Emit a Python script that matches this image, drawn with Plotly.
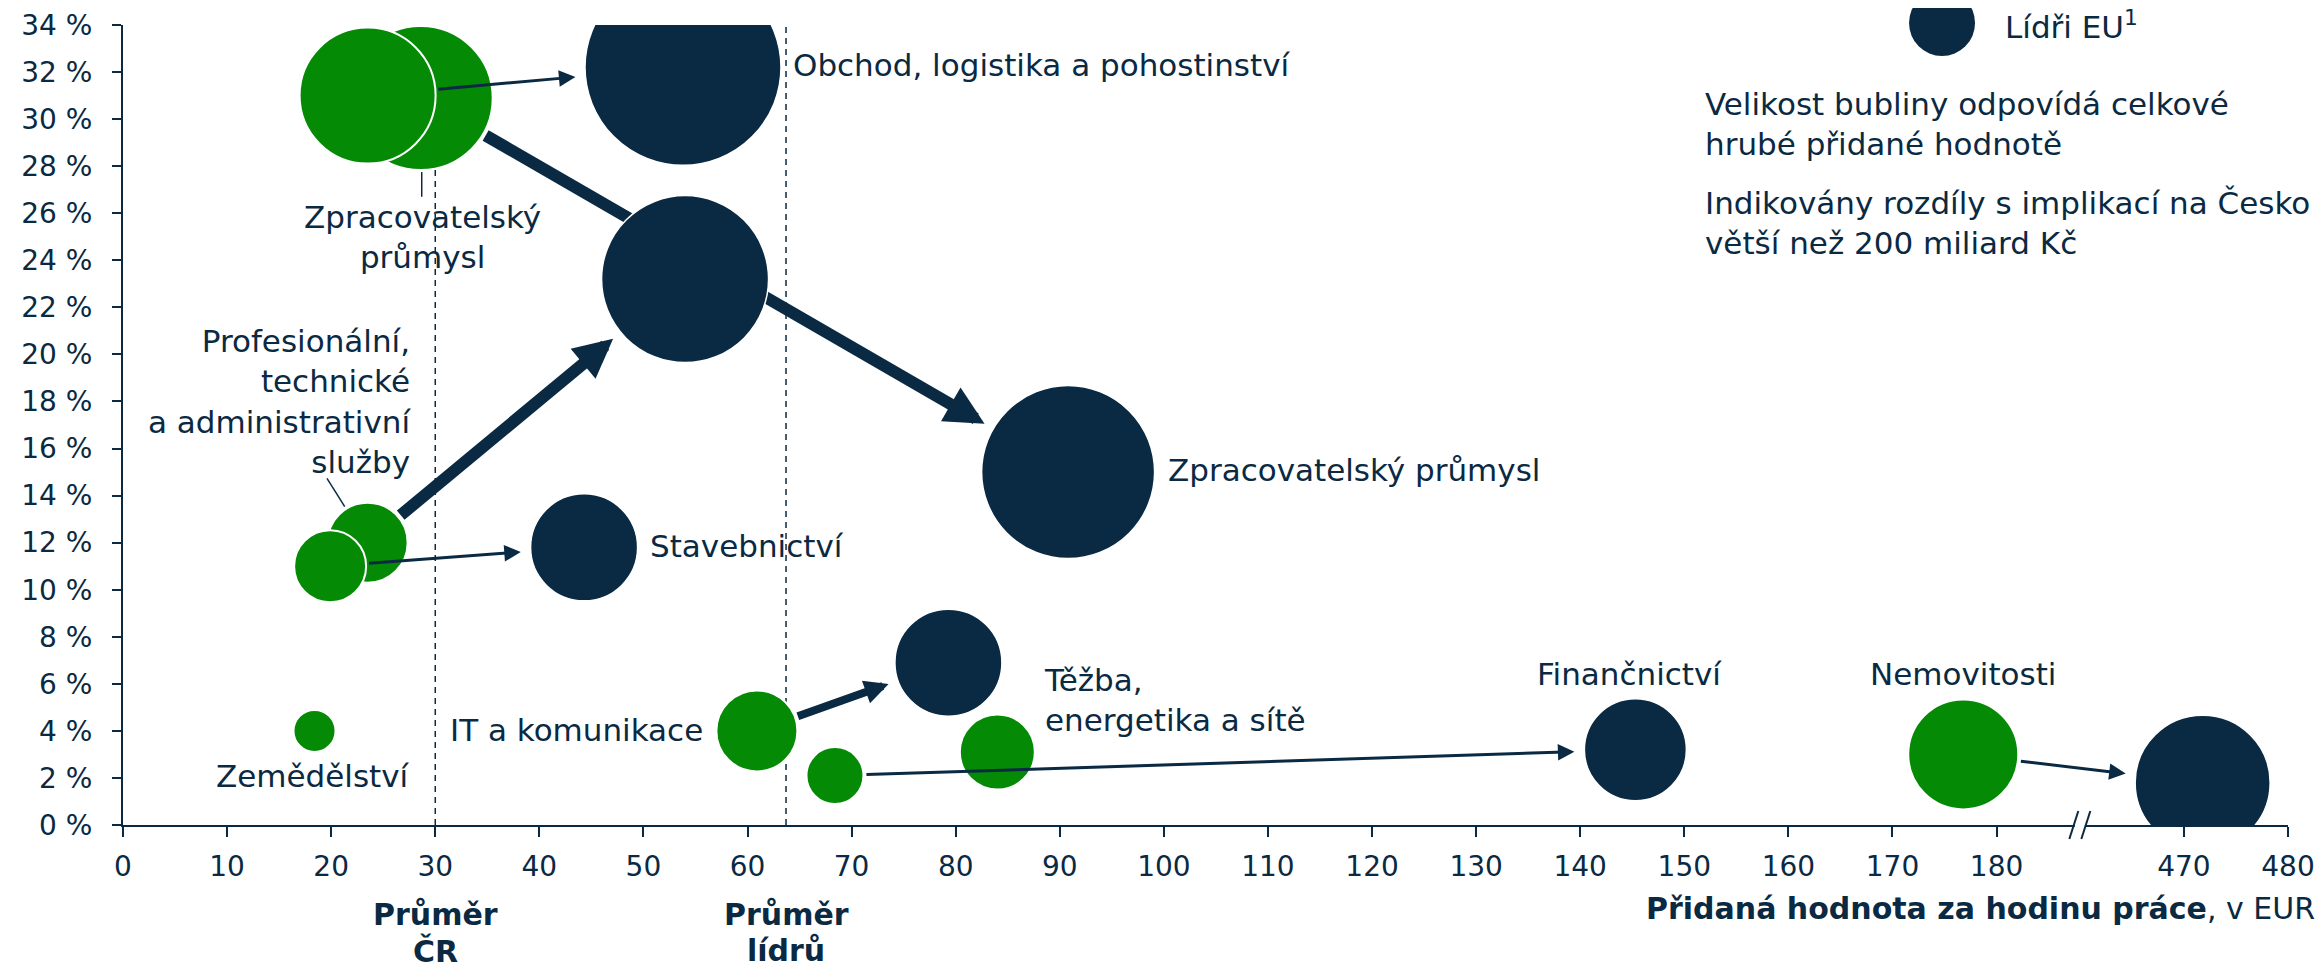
import math
import plotly.graph_objects as go

NAVY = "#0a2942"
GREEN = "#058a05"
FONT = "DejaVu Sans"
FS = 31      # labels
FS_TICK = 28

# sectors: CZ bubble vs. EU leaders bubble
sectors = ["Zpracovatelský průmysl", "Obchod, logistika a pohostinství",
           "Profesionální, technické a administrativní služby", "Stavebnictví",
           "Zemědělství", "IT a komunikace", "Finančnictví",
           "Těžba, energetika a sítě", "Nemovitosti"]
cz_x = [28.6, 23.5, 23.5, 19.9, 18.4, 60.9, 68.4, 84.0, 176.8]
cz_y = [30.9, 31.0, 12.0, 11.0, 4.0, 4.0, 2.1, 3.1, 3.0]
cz_size = [144, 136, 80, 72, 42, 81, 57, 75, 110]
eu_x = [90.8, 53.8, 54.0, 44.3, None, 79.3, 145.3, None, 471.8]
eu_y = [15.0, 32.2, 23.2, 11.8, None, 6.9, 3.2, None, 1.8]
eu_size = [173, 196, 167, 107, None, 107, 102, None, 135]

# arrows: sector index, line width
arrow_idx = [0, 1, 2, 3, 5, 6, 8]
arrow_w = [12, 3, 12, 3, 8, 3, 3]

avg_cz = 30.0
avg_leaders = 63.7

x_ticks = [0, 10, 20, 30, 40, 50, 60, 70, 80, 90, 100, 110, 120, 130, 140, 150,
           160, 170, 180, 470, 480]
y_ticks = list(range(0, 36, 2))

BREAK_SHIFT = 272  # values above the break are drawn shifted left
BREAK_AT = 188


def bx(v):
    if v is None:
        return None
    return v - BREAK_SHIFT if v > 400 else v


# the page body keeps an 8px margin, so the figure is made 8px smaller
W, H = 2315, 961
ML, MR, MT, MB = 115, 35, 17, 144
XMAX = bx(480)
ppx = (W - ML - MR) / XMAX
ppy = (H - MT - MB) / 34

fig = go.Figure()

fig.add_trace(go.Scatter(
    x=[bx(v) for v in cz_x], y=cz_y, mode="markers", text=sectors,
    marker=dict(size=cz_size, sizemode="diameter", color=GREEN, opacity=1,
                line=dict(color="white", width=2)),
    hoverinfo="text", showlegend=False))

annotations = []
for i, w in zip(arrow_idx, arrow_w):
    x0, y0 = bx(cz_x[i]) * ppx, cz_y[i] * ppy
    x1, y1 = bx(eu_x[i]) * ppx, eu_y[i] * ppy
    dx, dy = x1 - x0, y1 - y0
    L = math.hypot(dx, dy)
    ux, uy = dx / L, dy / L
    sx, sy = x0 + ux * (cz_size[i] / 2 + 3), y0 + uy * (cz_size[i] / 2 + 3)
    tx, ty = x1 - ux * (eu_size[i] / 2 + 10), y1 - uy * (eu_size[i] / 2 + 10)
    asize = 0.65 if w >= 10 else (0.6 if w >= 6 else 1.1)
    scale = w * asize
    ex, ey = tx - ux * 3 * scale, ty - uy * 3 * scale
    fig.add_trace(go.Scatter(
        x=[sx / ppx, ex / ppx], y=[sy / ppy, ey / ppy], mode="lines",
        line=dict(color=NAVY, width=w), hoverinfo="skip", showlegend=False))
    hl = 4 * scale
    annotations.append(dict(
        x=tx / ppx, y=ty / ppy, ax=-ux * hl, ay=uy * hl, text="",
        showarrow=True, arrowhead=2, arrowsize=asize, arrowwidth=w,
        arrowcolor=NAVY))

fig.add_trace(go.Scatter(
    x=[bx(v) for v in eu_x], y=eu_y, mode="markers", text=sectors,
    marker=dict(size=[s if s else 0 for s in eu_size], sizemode="diameter",
                color=NAVY, opacity=1, line=dict(color="white", width=1.5)),
    hoverinfo="text", showlegend=False))

tf = dict(family=FONT, size=FS, color=NAVY)


def label(x, y, text, xanchor="center", align="center", xref="x", yref="y",
          yshift=0):
    annotations.append(dict(x=x, y=y, text=text, xref=xref, yref=yref,
                            xanchor=xanchor, yanchor="middle", align=align,
                            showarrow=False, font=tf, yshift=yshift))


label(64.2, 32.3, "Obchod, logistika a pohostinství", "left")
label(28.8, 25.0, "Zpracovatelský<br>průmysl")
label(27.9, 18.0, "Profesionální,<br>technické<br>a administrativní<br>služby",
      "right", "right")
label(50.4, 11.86, "Stavebnictví", "left")
label(100.2, 15.1, "Zpracovatelský průmysl", "left")
label(55.9, 4.04, "IT a komunikace", "right")
label(18.3, 2.1, "Zemědělství")
label(88.3, 5.3, "Těžba,<br>energetika a sítě", "left", "left")
label(144.7, 6.4, "Finančnictví")
label(176.8, 6.4, "Nemovitosti")

# legend (cut by the top edge like in the source)
label(0.8684, 1.004, "Lídři EU<sup>1</sup>", "left", "left", "paper", "paper",
      yshift=-3)
label(0.730, 0.876, "Velikost bubliny odpovídá celkové<br>hrubé přidané hodnotě",
      "left", "left", "paper", "paper")
label(0.730, 0.752, "Indikovány rozdíly s implikací na Česko<br>větší než 200 miliard Kč",
      "left", "left", "paper", "paper")

bf = dict(family=FONT, size=30, color=NAVY)
for xv, l1, l2 in [(avg_cz, "Průměr", "ČR"), (avg_leaders, "Průměr", "lídrů")]:
    for yy, t in [(-0.112, l1), (-0.157, l2)]:
        annotations.append(dict(x=xv, y=yy, xref="x", yref="paper",
                                text="<b>" + t + "</b>", showarrow=False,
                                xanchor="center", yanchor="middle", font=bf))

annotations.append(dict(
    x=1.0134, y=-0.104, xref="paper", yref="paper", xanchor="right",
    yanchor="middle", showarrow=False, font=bf,
    text="<b>Přidaná hodnota za hodinu práce</b>, v EUR"))

shapes = []
shapes.append(dict(type="circle", xref="paper", yref="paper", xsizemode="pixel",
                   ysizemode="pixel", xanchor=0.8402, yanchor=1.0025,
                   x0=-33, x1=33, y0=-33, y1=33, fillcolor=NAVY,
                   line=dict(width=0)))
for xv in [avg_cz, avg_leaders]:
    shapes.append(dict(type="line", x0=xv, x1=xv, y0=0, y1=34, xref="x", yref="y",
                       layer="below", line=dict(color=NAVY, width=1.5, dash="6px,5px")))

# leader lines for labels
shapes.append(dict(type="line", x0=28.7, x1=28.7, y0=27.75, y1=26.7,
                   line=dict(color=NAVY, width=1.5)))
shapes.append(dict(type="line", x0=19.6, x1=21.3, y0=14.73, y1=13.53,
                   line=dict(color=NAVY, width=1.5)))

# axis break marks (paper refs so they are not clipped by the plot area)
brk = BREAK_AT / XMAX
shapes.append(dict(type="rect", xref="paper", yref="paper", xsizemode="pixel",
                   ysizemode="pixel", xanchor=brk, yanchor=0, x0=-5, x1=5,
                   y0=-3, y1=3, fillcolor="white", line=dict(width=0),
                   layer="above"))
for off in [-6, 6]:
    shapes.append(dict(type="line", xref="paper", yref="paper", xsizemode="pixel",
                       ysizemode="pixel", xanchor=brk, yanchor=0,
                       x0=off - 4.5, x1=off + 4.5, y0=-14, y1=14,
                       line=dict(color=NAVY, width=2), layer="above"))

fig.update_layout(
    width=W, height=H,
    margin=dict(l=ML, r=MR, t=MT, b=MB),
    paper_bgcolor="white", plot_bgcolor="white",
    font=dict(family=FONT, size=FS_TICK, color=NAVY),
    annotations=annotations, shapes=shapes,
    xaxis=dict(range=[0, XMAX], tickvals=[bx(v) for v in x_ticks],
               ticktext=[str(v) for v in x_ticks], showgrid=False,
               zeroline=False, showline=True, linecolor=NAVY, linewidth=2,
               ticks="outside", ticklen=10, tickwidth=2, tickcolor=NAVY,
               ticklabelstandoff=5, layer="below traces", automargin=False,
               tickfont=dict(family=FONT, size=FS_TICK, color=NAVY)),
    yaxis=dict(range=[0, 34], tickvals=y_ticks,
               ticktext=[f"{v} %" for v in y_ticks],
               showgrid=False, zeroline=False, showline=True, linecolor=NAVY,
               linewidth=2, ticks="outside", ticklen=9, tickwidth=2,
               tickcolor=NAVY, ticklabelstandoff=14, automargin=False,
               tickfont=dict(family=FONT, size=FS_TICK, color=NAVY)),
)

fig.write_html("out.html")
